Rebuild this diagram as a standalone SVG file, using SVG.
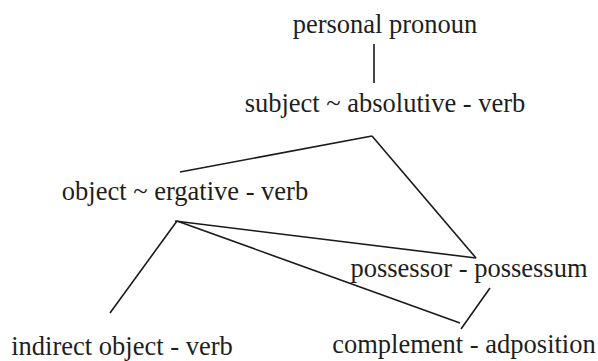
<svg xmlns="http://www.w3.org/2000/svg" width="598" height="361" viewBox="0 0 598 361">
<style>
text{font-family:"Liberation Serif","Times New Roman",serif;font-size:26.5px;fill:#1e1e1e;text-anchor:middle}
line{stroke:#1a1a1a;stroke-width:1.6;fill:none}
</style>
<rect width="598" height="361" fill="#fff"/>
<g id="connectors">
<line x1="374" y1="44" x2="374" y2="83"/>
<line x1="180" y1="172" x2="372" y2="136"/>
<line x1="372" y1="136" x2="476" y2="258"/>
<line x1="177" y1="221" x2="110" y2="313"/>
<line x1="175" y1="221" x2="476" y2="258"/>
<line x1="177" y1="221" x2="460" y2="323"/>
<line x1="490" y1="288" x2="461" y2="329"/>
</g>
<g id="n-personal-pronoun"><text x="385" y="33">personal pronoun</text></g>
<g id="n-subject"><text x="385" y="112">subject ~ absolutive - verb</text></g>
<g id="n-object"><text x="185" y="200">object ~ ergative - verb</text></g>
<g id="n-possessor"><text x="469" y="277">possessor - possessum</text></g>
<g id="n-indirect"><text x="122" y="355">indirect object - verb</text></g>
<g id="n-complement"><text x="464" y="353">complement - adposition</text></g>
</svg>
